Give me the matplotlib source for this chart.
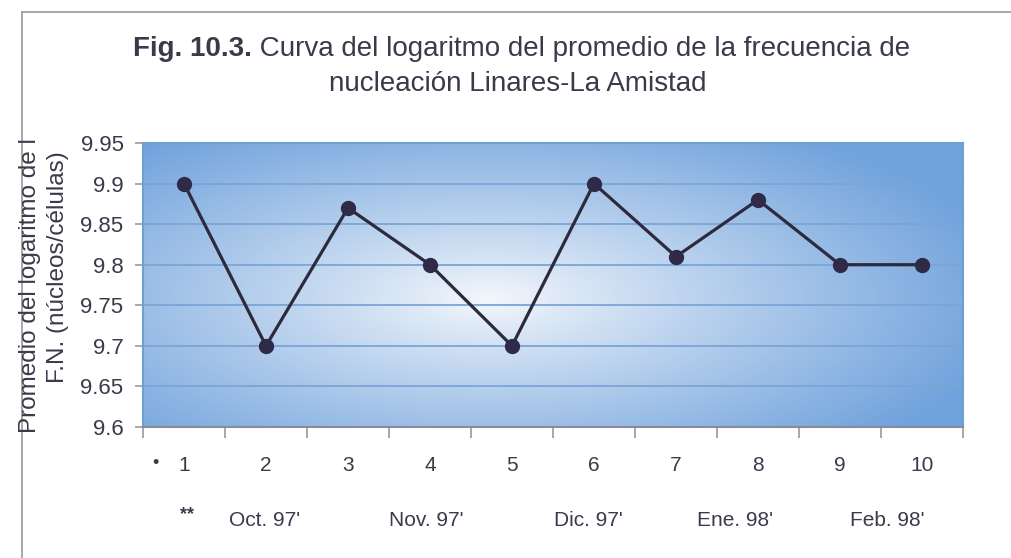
import numpy as np
import matplotlib
matplotlib.use("Agg")
import matplotlib.pyplot as plt
from matplotlib.lines import Line2D

categories = [1, 2, 3, 4, 5, 6, 7, 8, 9, 10]
values = [9.90, 9.70, 9.87, 9.80, 9.70, 9.90, 9.81, 9.88, 9.80, 9.80]
yticks = [9.6, 9.65, 9.7, 9.75, 9.8, 9.85, 9.9, 9.95]
ytick_labels = ["9.6", "9.65", "9.7", "9.75", "9.8", "9.85", "9.9", "9.95"]
months = ["Oct. 97'", "Nov. 97'", "Dic. 97'", "Ene. 98'", "Feb. 98'"]
month_pos = [1.98, 3.96, 5.93, 7.72, 9.58]

title_bold = "Fig. 10.3."
title_rest = " Curva del logaritmo del promedio de la frecuencia de"
title_line2 = "nucleación Linares-La Amistad"
ylabel1 = "Promedio del logaritmo de l"
ylabel2 = "F.N. (núcleos/células)"

REG = ["Liberation Sans", "DejaVu Sans"]
txtc = "#3a3a4a"
TS = 20

fig = plt.figure(figsize=(10.11, 5.58), dpi=100)
fig.patch.set_facecolor("white")

# outer chart border (top and left)
fig.add_artist(Line2D([22/1011, 1.0], [1-12/558, 1-12/558], color="#9a9a9a", lw=1.2))
fig.add_artist(Line2D([22/1011, 22/1011], [0, 1-12/558], color="#9a9a9a", lw=1.2))

ax = fig.add_axes([143/1011, 1-427/558, (963-143)/1011, (427-143)/558])

# background gradient
ny, nx = 200, 400
yy, xx = np.mgrid[0:1:ny*1j, 0:1:nx*1j]
d = np.sqrt(((xx-0.42)/0.65)**2 + ((yy-0.55)/0.72)**2)
d = np.clip(d, 0, 1)
c_edge = np.array([112, 162, 220]) / 255
c_mid = np.array([245, 248, 252]) / 255
t = d**0.9
img = c_mid[None, None, :]*(1-t[..., None]) + c_edge[None, None, :]*t[..., None]
ax.imshow(img, extent=[0.5, 10.5, 9.6, 9.95], aspect="auto", origin="upper", zorder=0)

ax.set_xlim(0.5, 10.5)
ax.set_ylim(9.6, 9.95)
for y in yticks[1:-1]:
    ax.axhline(y, color="#7aa5d6", lw=1.3, zorder=1)

ax.plot(categories, values, color="#2e2a3e", lw=2.3, marker="o", markersize=10,
        markerfacecolor="#2e2a48", markeredgecolor="#2e2a48", zorder=3)

for s in ["top", "right", "left"]:
    ax.spines[s].set_color("#6f9fd6")
    ax.spines[s].set_linewidth(1.5)
ax.spines["bottom"].set_color("#8a8a9a")
ax.spines["bottom"].set_linewidth(1.5)

ax.set_yticks(yticks)
ax.set_yticklabels(ytick_labels, fontsize=16, color=txtc, family=REG)
ax.set_xticks(np.arange(0.5, 11, 1))
ax.set_xticklabels([])
ax.tick_params(axis="x", length=8, color="#9a9a9a", width=1.2, direction="out")
ax.tick_params(axis="y", length=6, color="#9a9a9a", width=1.2, direction="out", pad=8)

trans = ax.get_xaxis_transform()
for c in categories:
    ax.text(c, -0.135, str(c), transform=trans, ha="center", va="center",
            fontsize=15, color=txtc, family=REG)
ax.text(0.65, -0.128, "•", transform=trans, ha="center", va="center",
        fontsize=13, color=txtc, family=REG)
ax.text(1.04, -0.31, "**", transform=trans, ha="center", va="center",
        fontsize=13, color=txtc, family=REG, fontweight="bold")
for m, p in zip(months, month_pos):
    ax.text(p, -0.33, m, transform=trans, ha="center", va="center",
            fontsize=15, color=txtc, family=REG)

# title
ty1 = 1-49/558
t1 = fig.text(0.514, ty1, title_bold + title_rest, ha="center", va="center",
              fontsize=TS, color=txtc, family=REG)
fig.canvas.draw()
bb = t1.get_window_extent()
t1.remove()
x0 = bb.x0 / fig.bbox.width
tb = fig.text(x0, ty1, title_bold, ha="left", va="center", fontsize=TS,
              color=txtc, family=REG, fontweight="bold")
fig.canvas.draw()
bb2 = tb.get_window_extent()
fig.text(bb2.x1 / fig.bbox.width, ty1, title_rest, ha="left", va="center",
         fontsize=TS, color=txtc, family=REG)
fig.text(0.512, 1-84/558, title_line2, ha="center", va="center",
         fontsize=TS, color=txtc, family=REG)

# y labels
fig.text(30/1011, 1-433/558, ylabel1, rotation=90, ha="center", va="bottom",
         fontsize=17.5, color=txtc, family=REG)
fig.text(58/1011, 1-267/558, ylabel2, rotation=90, ha="center", va="center",
         fontsize=17.5, color=txtc, family=REG)

fig.savefig("out.png", dpi=100, facecolor="white")
